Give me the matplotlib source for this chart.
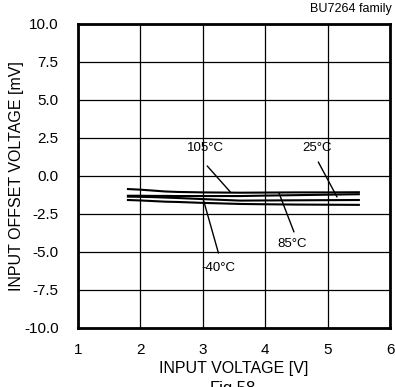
import matplotlib.pyplot as plt
import numpy as np

plt.rcParams['font.family'] = ['Liberation Sans', 'DejaVu Sans']

# input voltage [V]
vin = [1.8, 2.0, 2.2, 2.4, 2.6, 3.0, 3.6, 4.0, 4.5, 5.0, 5.5]
# input offset voltage [mV]
vio_105 = [-0.86, -0.90, -0.96, -1.02, -1.05, -1.08, -1.10, -1.09, -1.08, -1.08, -1.07]
vio_25 = [-1.30, -1.30, -1.31, -1.31, -1.32, -1.32, -1.32, -1.29, -1.26, -1.23, -1.20]
vio_85 = [-1.36, -1.37, -1.39, -1.42, -1.45, -1.52, -1.62, -1.61, -1.60, -1.59, -1.58]
vio_m40 = [-1.58, -1.61, -1.65, -1.69, -1.71, -1.77, -1.84, -1.86, -1.88, -1.89, -1.90]

xticks = [1, 2, 3, 4, 5, 6]
yticks = np.arange(-10, 10.1, 2.5)

# label text, text position, leader start, leader end
labels = ['105°C', '25°C', '85°C', '-40°C']
label_xy = [(3.04, 1.85), (4.83, 1.85), (4.43, -4.45), (3.25, -6.05)]
lead_from = [(3.07, 0.66), (4.85, 0.92), (4.46, -3.68), (3.25, -5.07)]
lead_to = [(3.44, -1.05), (5.15, -1.38), (4.22, -1.12), (3.01, -1.58)]

fig = plt.figure(figsize=(3.95, 3.87), dpi=100)
ax = fig.add_axes([0.1975, 0.1525, 0.790, 0.7855])

for v in [vio_105, vio_25, vio_85, vio_m40]:
    ax.plot(vin, v, color='black', lw=1.5, solid_joinstyle='round')

ax.set_xlim(1, 6)
ax.set_ylim(-10, 10)
ax.set_xticks(xticks)
ax.set_yticks(yticks)
ax.set_yticklabels(['%.1f' % t for t in yticks])
ax.grid(True, color='black', lw=0.9)
ax.tick_params(length=0, labelsize=11, colors='black', pad=14)
ax.tick_params(axis='x', pad=11)
for s in ax.spines.values():
    s.set_linewidth(2)

ax.set_xlabel('INPUT VOLTAGE [V]', fontsize=11.5, labelpad=3)
ax.set_ylabel('INPUT OFFSET VOLTAGE [mV]', fontsize=11.5, labelpad=0)

for lab, t, a, b in zip(labels, label_xy, lead_from, lead_to):
    ax.text(t[0], t[1], lab, fontsize=9.5, ha='center', va='center')
    ax.annotate('', xy=b, xytext=a,
                arrowprops=dict(arrowstyle='-', color='black', lw=1, shrinkA=0, shrinkB=0))

fig.text(0.993, 0.993, 'BU7264 family', fontsize=9, ha='right', va='top')
fig.text(0.59, 0.016, 'Fig.58', fontsize=12, ha='center', va='top')

fig.savefig('out.png', dpi=100)
